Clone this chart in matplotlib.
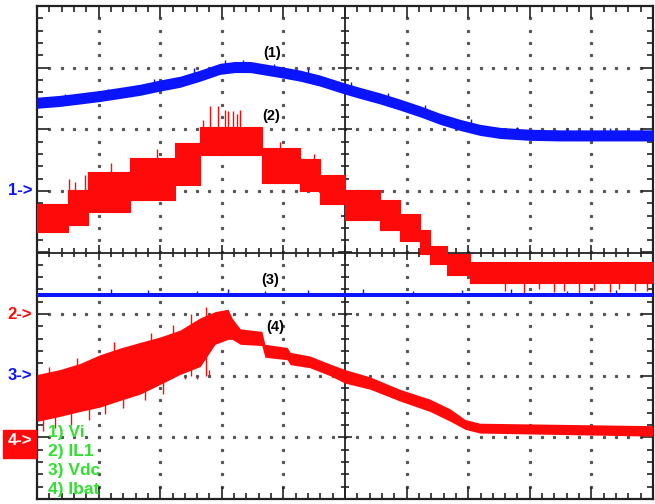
import numpy as np
import matplotlib
matplotlib.use("Agg")
import matplotlib.pyplot as plt
from matplotlib.collections import LineCollection
from matplotlib.patches import Rectangle

# ---- traces, in screen divisions (10 x 8 graticule, centre = (5, 0)) ----
# (1) Vi : centre of the trace band
vi_t = [0.00, 0.37, 0.70, 1.02, 1.35, 1.67, 2.00, 2.32, 2.65, 2.97, 3.21, 3.46,
        3.70, 3.94, 4.27, 4.59, 5.00, 5.24, 5.57, 5.89, 6.22, 6.54, 6.87, 7.19,
        7.52, 8.00, 8.49, 9.14, 10.00]
vi_v = [2.43, 2.46, 2.50, 2.54, 2.59, 2.64, 2.71, 2.77, 2.87, 2.98, 3.01, 3.01,
        2.97, 2.93, 2.87, 2.79, 2.66, 2.59, 2.50, 2.40, 2.29, 2.17, 2.07, 1.99,
        1.94, 1.91, 1.90, 1.90, 1.90]
vi_sp_t = [0.45, 1.15, 1.90, 2.55, 3.05, 3.35, 3.85, 4.40, 5.10, 5.70, 6.30,
           7.05, 7.80, 8.60, 9.30]
vi_sp_v = [2.58, 2.66, 2.82, 2.99, 3.12, 3.13, 3.06, 2.97, 2.76, 2.59, 2.40,
           2.16, 2.04, 2.02, 2.02]

# (2) IL1 : stepped band, upper / lower envelope of each step
il1_t = [0.00, 0.50, 0.83, 1.51, 2.24, 2.65, 3.65, 4.27, 4.59, 5.00, 5.57,
         5.89, 6.22, 6.38, 6.66, 7.03, 10.00]
il1_hi = [0.78, 1.02, 1.31, 1.54, 1.78, 2.03, 1.70, 1.51, 1.26, 1.02, 0.86,
          0.62, 0.37, 0.10, -0.03, -0.16, -0.16]
il1_lo = [0.34, 0.45, 0.66, 0.86, 1.10, 1.59, 1.13, 0.99, 0.78, 0.53, 0.37,
          0.18, -0.03, -0.19, -0.36, -0.50, -0.50]
# switching spikes on IL1 (time, base, peak)
il1_up_t = [0.52, 0.62, 0.78, 1.20, 1.95, 2.70, 2.81, 2.94, 3.05, 3.10, 3.18,
            3.25, 3.30, 3.95, 4.50]
il1_up_b = [1.00, 1.00, 1.00, 1.30, 1.52, 2.00, 2.00, 2.00, 2.00, 2.00, 2.00,
            2.00, 2.00, 1.68, 1.49]
il1_up_v = [1.20, 1.15, 1.26, 1.45, 1.68, 2.15, 2.37, 2.37, 2.32, 2.30, 2.29,
            2.24, 2.32, 1.80, 1.60]
il1_dn_t = [7.60, 7.90, 8.15, 8.40, 8.55, 8.80, 9.05, 9.30, 9.45, 9.70, 9.90]
il1_dn_v = [-0.62, -0.65, -0.60, -0.64, -0.62, -0.65, -0.61, -0.64, -0.60,
            -0.63, -0.62]

# (3) Vdc : flat line
vdc_t = [0.0, 10.0]
vdc_v = [-0.69, -0.69]
vdc_sp_t = [1.2, 1.8, 2.6, 3.1, 3.7, 4.4, 5.3, 6.1, 6.9, 7.7, 8.6, 9.4]
vdc_sp_v = [-0.60, -0.61, -0.62, -0.60, -0.62, -0.61, -0.60, -0.62, -0.61,
            -0.60, -0.62, -0.61]

# (4) Ibat : upper / lower envelope
ib_t = [0.00, 0.37, 0.70, 1.02, 1.35, 1.67, 2.00, 2.32, 2.65, 2.89, 3.10,
        3.17, 3.30, 3.65, 3.70, 4.06, 4.11, 4.43, 4.76, 5.00, 5.41, 5.89,
        6.38, 6.71, 6.95, 7.19, 10.00]
ib_hi = [-1.98, -1.90, -1.80, -1.66, -1.55, -1.46, -1.37, -1.26, -1.06, -0.96,
         -0.92, -1.07, -1.24, -1.28, -1.49, -1.54, -1.62, -1.68, -1.81, -1.90,
         -2.02, -2.22, -2.38, -2.54, -2.71, -2.77, -2.81]
ib_lo = [-2.74, -2.66, -2.58, -2.51, -2.40, -2.30, -2.14, -1.98, -1.85, -1.49,
         -1.41, -1.41, -1.49, -1.51, -1.70, -1.74, -1.82, -1.87, -2.00, -2.12,
         -2.22, -2.41, -2.58, -2.74, -2.87, -2.93, -2.98]
ib_dn_t = [0.10, 0.30, 0.55, 0.85, 1.10, 1.40, 1.75, 2.05, 2.40, 2.60, 2.80]
ib_dn_v = [-2.90, -2.85, -2.80, -2.72, -2.62, -2.52, -2.40, -2.30, -2.05, -2.05,
           -1.90]
ib_up_t = [0.20, 0.65, 1.25, 1.85, 2.20, 2.50, 2.75]
ib_up_v = [-1.85, -1.72, -1.45, -1.30, -1.18, -1.00, -0.88]

names = ["1) Vi", "2) IL1", "3) Vdc", "4) Ibat"]
refs = [("1->", 1.0), ("2->", -1.0), ("3->", -2.0), ("4->", -3.0)]

BLUE = "#0a14ff"
RED = "#ff0a0a"
GREEN = "#30e030"

W, H = 655, 504
fig = plt.figure(figsize=(W / 100, H / 100), dpi=100)
x0, x1, y0, y1 = 37, 653, 6, 499
ax = fig.add_axes([x0 / W, 1 - y1 / H, (x1 - x0) / W, (y1 - y0) / H])
ax.set_xlim(0, 10)
ax.set_ylim(-4, 4)
ax.set_xticks([])
ax.set_yticks([])
for s in ax.spines.values():
    s.set_color("#222222")
    s.set_linewidth(1.6)

# dotted graticule
dots = []
minor = np.arange(0.2, 10.0, 0.2)
for gx in [1, 2, 3, 4, 6, 7, 8, 9]:
    for yy in np.arange(-3.8, 4.0, 0.2):
        dots.append((gx, yy))
for gy in [-3, -2, -1, 1, 2, 3]:
    for xx in minor:
        dots.append((xx, gy))
dots = np.array(dots)
ax.plot(dots[:, 0], dots[:, 1], ls="none", marker="s", ms=1.3,
        color="#555555", zorder=1)

# centre axes and tick marks
segs = []
ax.axhline(0, color="#222222", lw=1.3, zorder=1)
ax.axvline(5, color="#222222", lw=1.3, zorder=1)
for xx in np.arange(0.2, 10.0, 0.2):
    major = abs(xx - round(xx)) < 1e-6
    hl = 0.12 if major else 0.07
    segs.append([(xx, -hl), (xx, hl)])
    L = 0.2 if major else 0.1
    segs.append([(xx, 4), (xx, 4 - L)])
    segs.append([(xx, -4), (xx, -4 + L)])
for yy in np.arange(-3.8, 4.0, 0.2):
    major = abs(yy - round(yy)) < 1e-6
    hl = 0.12 if major else 0.07
    segs.append([(5 - hl, yy), (5 + hl, yy)])
    L = 0.2 if major else 0.1
    segs.append([(0, yy), (L, yy)])
    segs.append([(10, yy), (10 - L, yy)])
ax.add_collection(LineCollection(segs, colors="#222222", linewidths=1.2,
                                 zorder=1))

# trace 1
vi_v = np.array(vi_v)
ax.fill_between(vi_t, vi_v - 0.09, vi_v + 0.09, color=BLUE, lw=0, zorder=3)
ax.vlines(vi_sp_t, np.interp(vi_sp_t, vi_t, vi_v), vi_sp_v, color=BLUE,
          lw=1.0, zorder=3)

# trace 2
ax.fill_between(il1_t, il1_lo, il1_hi, step="post", color=RED, lw=0.8,
                edgecolor=RED, zorder=3)
ax.vlines(il1_up_t, il1_up_b, il1_up_v, color=RED, lw=1.0, zorder=3)
ax.vlines(il1_dn_t, -0.45, il1_dn_v, color=RED, lw=1.0, zorder=3)

# trace 3
vdc_v = np.array(vdc_v)
ax.fill_between(vdc_t, vdc_v - 0.04, vdc_v + 0.04, color=BLUE, lw=0, zorder=4)
ax.vlines(vdc_sp_t, -0.7, vdc_sp_v, color=BLUE, lw=1.0, zorder=4)

# trace 4
ax.fill_between(ib_t, ib_lo, ib_hi, color=RED, lw=0, zorder=3)
ax.vlines(ib_dn_t, -2.0, ib_dn_v, color=RED, lw=1.0, zorder=3)
ax.vlines(ib_up_t, -2.0, ib_up_v, color=RED, lw=1.0, zorder=3)

# trace tags
tags = [("(1)", 3.82, 3.23), ("(2)", 3.80, 2.22), ("(3)", 3.78, -0.44),
        ("(4)", 3.86, -1.21)]
for t, xx, yy in tags:
    ax.text(xx, yy, t, fontsize=10.5, fontweight="bold", color="black",
            ha="center", va="center", family="Liberation Sans", zorder=5)

# channel names
for i, n in enumerate(names):
    fig.text(48 / W, 1 - (433 + 18.7 * i) / H, n, fontsize=12.5,
             fontweight="bold", color=GREEN, ha="left", va="center",
             family="Liberation Sans")

# channel reference markers on the left edge
colors = [BLUE, RED, BLUE, "white"]
for (lab, lvl), c in zip(refs, colors):
    py = 252.5 - lvl * 61.7
    if c == "white":
        fig.patches.append(Rectangle((3 / W, 1 - 458 / H), 33 / W, 28 / H,
                                     transform=fig.transFigure, color=RED,
                                     zorder=0))
        py += 3
    fig.text(20 / W, 1 - py / H, lab, fontsize=12, color=c, ha="center",
             va="center", family="Liberation Sans", fontweight="bold")

fig.savefig("out.png", dpi=100)
